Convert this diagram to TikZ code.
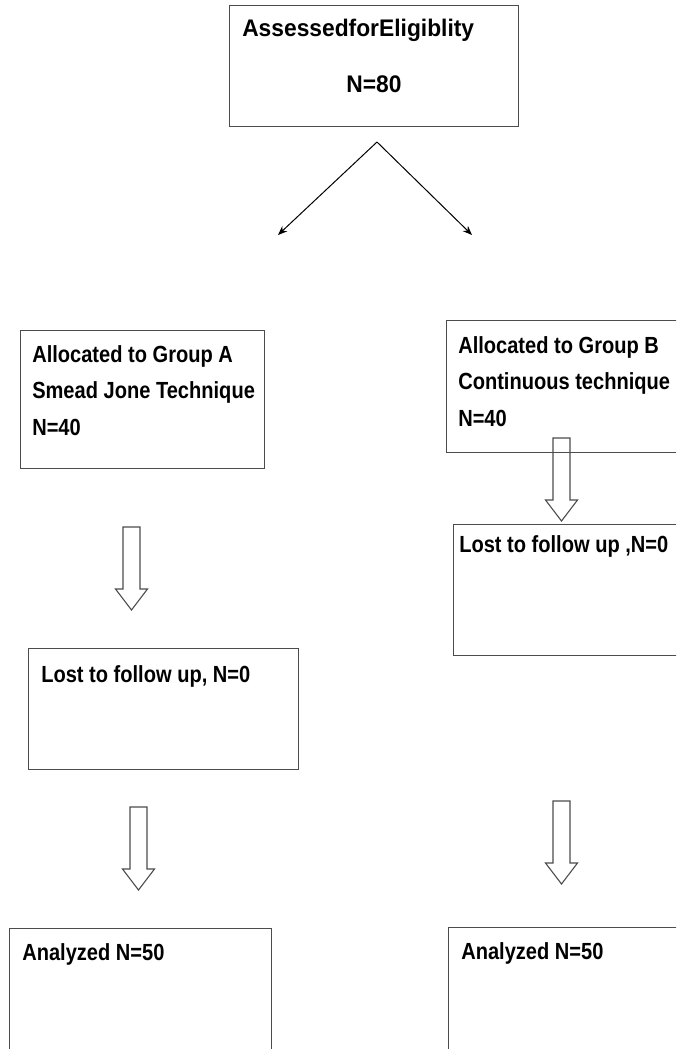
\documentclass[tikz,border=0pt]{standalone}
\usepackage{fontspec}
\newfontfamily\boxfont{Liberation Sans}[FakeStretch=0.86]
\newfontfamily\headfont{Liberation Sans}[FakeStretch=0.95]
\usetikzlibrary{arrows.meta}
\newdimen\pxl
\pxl=0.75pt

\begin{document}
\begin{tikzpicture}[
      x=0.75pt, y=-0.75pt,
      box/.style={
        draw=black!70,
        line width=1.1\pxl,
        anchor=north west,
        inner sep=0pt
      },
      boxtext/.style={
        anchor=base west,
        inner sep=0pt,
        font=\boxfont\bfseries\fontsize{17.5pt}{27.4pt}\selectfont
      },
      headtext/.style={
        anchor=base west,
        inner sep=0pt,
        font=\headfont\bfseries\fontsize{18pt}{22pt}\selectfont
      },
      splitarrow/.style={
        draw=black,
        line width=1\pxl,
        -{Stealth[length=7pt,width=5.5pt]}
      },
      downarrow/.pic={
        \draw[draw=black!70, line width=1.1\pxl]
          (-8.5,0) -- (8.5,0) -- (8.5,62) -- (16,62) -- (0,83)
          -- (-16,62) -- (-8.5,62) -- cycle;
      }
    ]
    \useasboundingbox (0,0) rectangle (676,1049);
    \clip (0,0) rectangle (676,1049);
    %% Assessed
    \node[box, minimum width=289\pxl, minimum height=121\pxl] (assess) at (229,5) {};
    \node[headtext] (assess-1) at (242,37) {AssessedforEligiblity};
    \node[headtext, anchor=base] (assess-2) at (374,93) {N=80};
    %% Split
    \coordinate (split) at (377,142);
    \coordinate (to-a) at (278,235);
    \coordinate (to-b) at (472,235);
    \draw[splitarrow] (split) -- (to-a);
    \draw[splitarrow] (split) -- (to-b);
    %% Group A
    \node[box, minimum width=244\pxl, minimum height=138\pxl] (grp-a) at (20,330) {};
    \node[boxtext] (grp-a-text) at (32,362) {\parbox[t]{300\pxl}{%
        Allocated to Group A\\
        Smead Jone Technique\\
        N=40}};
    \pic (ar-a1) at (131.5,527) {downarrow};
    %% Lost A
    \node[box, minimum width=270\pxl, minimum height=121\pxl] (lost-a) at (28,648) {};
    \node[boxtext] (lost-a-text) at (41,682) {Lost to follow up, N=0};
    \pic (ar-a2) at (138.5,807) {downarrow};
    %% Analyzed A
    \node[box, minimum width=262\pxl, minimum height=140\pxl] (anal-a) at (9,928) {};
    \node[boxtext] (anal-a-text) at (22,960) {Analyzed N=50};
    %% Group B
    \node[box, minimum width=260\pxl, minimum height=132\pxl] (grp-b) at (446,320) {};
    \node[boxtext] (grp-b-text) at (458,353) {\parbox[t]{300\pxl}{%
        Allocated to Group B\\
        Continuous technique\\
        N=40}};
    \pic (ar-b1) at (561.5,438) {downarrow};
    %% Lost B
    \node[box, minimum width=260\pxl, minimum height=131\pxl] (lost-b) at (453,524) {};
    \node[boxtext] (lost-b-text) at (459,552) {Lost to follow up ,N=0};
    \pic (ar-b2) at (561.5,801) {downarrow};
    %% Analyzed B
    \node[box, minimum width=260\pxl, minimum height=140\pxl] (anal-b) at (448,927) {};
    \node[boxtext] (anal-b-text) at (461,959) {Analyzed N=50};
  \end{tikzpicture}
\end{document}
